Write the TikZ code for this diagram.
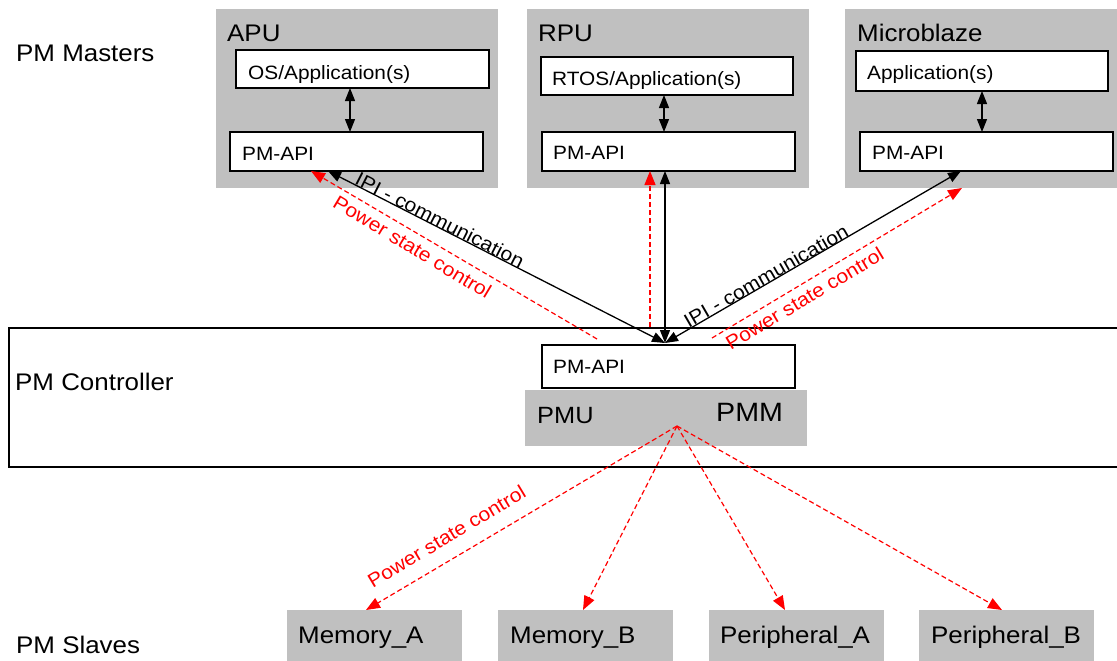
\documentclass[tikz,border=0pt]{standalone}
\usepackage{fontspec}
\setmainfont{Liberation Sans}[FakeStretch=1.08]
\usetikzlibrary{arrows.meta}
\definecolor{boxgray}{HTML}{C0C0C0}
\definecolor{pred}{HTML}{FF0000}
\newcommand\fsz[1]{\fontsize{#1}{#1}\selectfont}
\begin{document}
\begin{tikzpicture}[x=1pt,y=-1pt,
  graybox/.style={fill=boxgray, draw=none, inner sep=0pt, outer sep=0pt, anchor=north west},
  wbox/.style={fill=white, draw=black, line width=2pt, inner sep=0pt, outer sep=0pt, anchor=north west},
  txt/.style={anchor=base west, inner sep=0pt},
  lbl/.style={inner sep=0pt, font=\fsz{19.5}},
  dbl/.style={line width=1.3pt, {Triangle[length=13pt,width=10pt]}-{Triangle[length=13pt,width=10pt]}},
  redarr/.style={draw=pred, line width=1.2pt, dash pattern=on 5pt off 3pt, -{Triangle[length=14pt,width=11pt]}, pred}
]
\useasboundingbox (0,0) rectangle (1117,661);
\clip (0,0) rectangle (1117,661);

% controller frame
\node[draw=black, line width=1.5pt, inner sep=0pt, anchor=north west, minimum width=1130, minimum height=139] (ctl) at (8,327) {};

% left labels
\node[txt, font=\fsz{24}] (tmasters) at (16,62) {PM Masters};
\node[txt, font=\fsz{24}] (tctl) at (15,390) {PM Controller};
\node[txt, font=\fsz{24}] (tslaves) at (16,653) {PM Slaves};

% master gray boxes
\node[graybox, minimum width=282, minimum height=179] (apu) at (216,9) {};
\node[graybox, minimum width=282, minimum height=179] (rpu) at (527,9) {};
\node[graybox, minimum width=273, minimum height=179] (mb) at (845,9) {};
\node[txt, font=\fsz{24}] (tapu) at (227,42) {APU};
\node[txt, font=\fsz{24}] (trpu) at (538,42) {RPU};
\node[txt, font=\fsz{24}] (tmb) at (857,42) {Microblaze};

% white boxes
\node[wbox, minimum width=253, minimum height=38] (osapp) at (236,50) {};
\node[wbox, minimum width=253, minimum height=39] (apuapi) at (230,132) {};
\node[wbox, minimum width=252, minimum height=38] (rtos) at (541,57) {};
\node[wbox, minimum width=253, minimum height=39] (rpuapi) at (542,132) {};
\node[wbox, minimum width=252, minimum height=40] (mbapp) at (856,51) {};
\node[wbox, minimum width=253, minimum height=39] (mbapi) at (860,132) {};

\node[txt, font=\fsz{19.3}] (tosapp) at (248,79.5) {OS/Application(s)};
\node[txt, font=\fsz{19.3}] (tapuapi) at (242,160.5) {PM-API};
\node[txt, font=\fsz{19.3}] (trtos) at (552,85.5) {RTOS/Application(s)};
\node[txt, font=\fsz{19.3}] (trpuapi) at (553,159.5) {PM-API};
\node[txt, font=\fsz{19.3}] (tmbapp) at (867,79.5) {Application(s)};
\node[txt, font=\fsz{19.3}] (tmbapi) at (872,159.5) {PM-API};

% controller content
\node[wbox, minimum width=253, minimum height=43] (ctlapi) at (542,345) {};
\node[txt, font=\fsz{19.3}] (tctlapi) at (553,373.5) {PM-API};
\node[graybox, minimum width=282, minimum height=56] (pmu) at (525,390) {};
\node[txt, font=\fsz{23.5}] (tpmu) at (537,423.5) {PMU};
\node[txt, font=\fsz{26.5}] (tpmm) at (716,421.5) {PMM};

% slaves
\node[graybox, minimum width=175, minimum height=52] (memA) at (287,610) {};
\node[graybox, minimum width=175, minimum height=52] (memB) at (498,610) {};
\node[graybox, minimum width=175, minimum height=52] (perA) at (709,610) {};
\node[graybox, minimum width=175, minimum height=52] (perB) at (919,610) {};
\node[txt, font=\fsz{24}] (tmemA) at (298,643.5) {Memory\_A};
\node[txt, font=\fsz{24}] (tmemB) at (510,643.5) {Memory\_B};
\node[txt, font=\fsz{24}] (tperA) at (720,643.5) {Peripheral\_A};
\node[txt, font=\fsz{24}] (tperB) at (931,643.5) {Peripheral\_B};

% inner arrows
\draw[dbl] ([xshift=-12.5pt]osapp.south) -- ([xshift=-12.5pt]osapp.south |- apuapi.north);
\draw[dbl] ([xshift=-3pt]rtos.south) -- ([xshift=-3pt]rtos.south |- rpuapi.north);
\draw[dbl] (mbapp.south) -- (mbapp.south |- mbapi.north);

% IPI arrows
\coordinate (hub) at ([xshift=-3.5pt,yshift=2pt]ctlapi.north);
\draw[dbl] (hub) -- ([xshift=-28.5pt]apuapi.south);
\draw[dbl] (hub) -- (hub |- rpuapi.south);
\draw[dbl] (hub) -- ([xshift=-25.5pt]mbapi.south);

% power state control arrows (masters)
\coordinate (rA) at (597,339);
\coordinate (rM) at (650,327);
\coordinate (rB) at (712,338);
\draw[redarr] (rA) -- ([xshift=-45.5pt]apuapi.south);
\draw[redarr] (rM) -- (rM |- rpuapi.south);
\draw[redarr] (rB) -- ([xshift=-19.5pt]mb.south);

% power state control arrows (slaves)
\coordinate (fan) at (677,426);
\draw[redarr] (fan) -- ([xshift=-8.5pt]memA.north);
\draw[redarr] (fan) -- ([xshift=-2.5pt]memB.north);
\draw[redarr] (fan) -- ([xshift=-11.5pt]perA.north);
\draw[redarr] (fan) -- ([xshift=-4.5pt]perB.north);

% labels
\node[lbl, rotate=-27] (ipiA) at (440,220) {IPI - communication};
\node[lbl, rotate=30] (ipiB) at (766,276) {IPI - communication};
\node[lbl, text=pred, rotate=-31] (pscA) at (412.5,247) {Power state control};
\node[lbl, text=pred, rotate=31] (pscB) at (804.5,298.5) {Power state control};
\node[lbl, text=pred, rotate=31] (pscS) at (446.5,536.5) {Power state control};
\end{tikzpicture}
\end{document}
